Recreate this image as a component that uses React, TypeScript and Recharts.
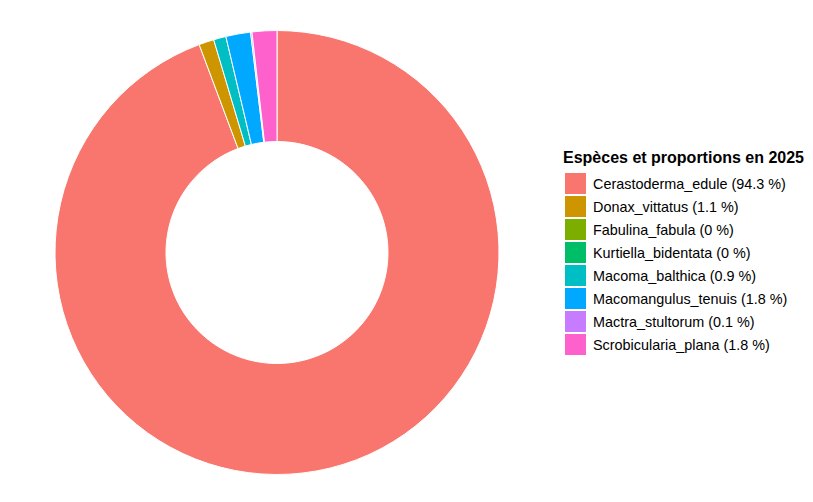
import React from "react";
import { PieChart, Pie, Cell, Legend } from "recharts";

const species = [
  "Cerastoderma_edule",
  "Donax_vittatus",
  "Fabulina_fabula",
  "Kurtiella_bidentata",
  "Macoma_balthica",
  "Macomangulus_tenuis",
  "Mactra_stultorum",
  "Scrobicularia_plana",
];
const proportions = [94.3, 1.1, 0, 0, 0.9, 1.8, 0.1, 1.8];
const colors = [
  "#F8766D",
  "#CD9600",
  "#7CAE00",
  "#00BE67",
  "#00BFC4",
  "#00A9FF",
  "#C77CFF",
  "#FF61CC",
];

const data = species.map((name, i) => ({
  name,
  value: proportions[i],
  label: `${name} (${proportions[i]} %)`,
}));

const font = "'Liberation Sans', Arial, sans-serif";

const LegendBox = () => (
  <div style={{ fontFamily: font, color: "#000" }}>
    <div style={{ fontWeight: "bold", fontSize: 16, lineHeight: "20px", marginBottom: 4, marginLeft: -2 }}>
      Espèces et proportions en 2025
    </div>
    {data.map((d, i) => (
      <div key={d.name} style={{ display: "flex", alignItems: "center", height: 23 }}>
        <div style={{ width: 21, height: 21, background: colors[i], marginRight: 7 }} />
        <span style={{ fontSize: 14.4 }}>{d.label}</span>
      </div>
    ))}
  </div>
);

export default function App() {
  return (
    <div style={{ position: "absolute", left: 0, top: 0, width: 813, height: 502, background: "#fff" }}>
      <PieChart width={813} height={502}>
        <Pie
          data={data}
          dataKey="value"
          nameKey="name"
          cx={272}
          cy={247.5}
          innerRadius={111}
          outerRadius={222}
          startAngle={90}
          endAngle={-270}
          stroke="#fff"
          strokeWidth={1}
          isAnimationActive={false}
        >
          {data.map((d, i) => (
            <Cell key={d.name} fill={colors[i]} />
          ))}
        </Pie>
        <Legend
          content={() => <LegendBox />}
          wrapperStyle={{ position: "absolute", left: 565, top: 148, width: 250 }}
        />
      </PieChart>
    </div>
  );
}
